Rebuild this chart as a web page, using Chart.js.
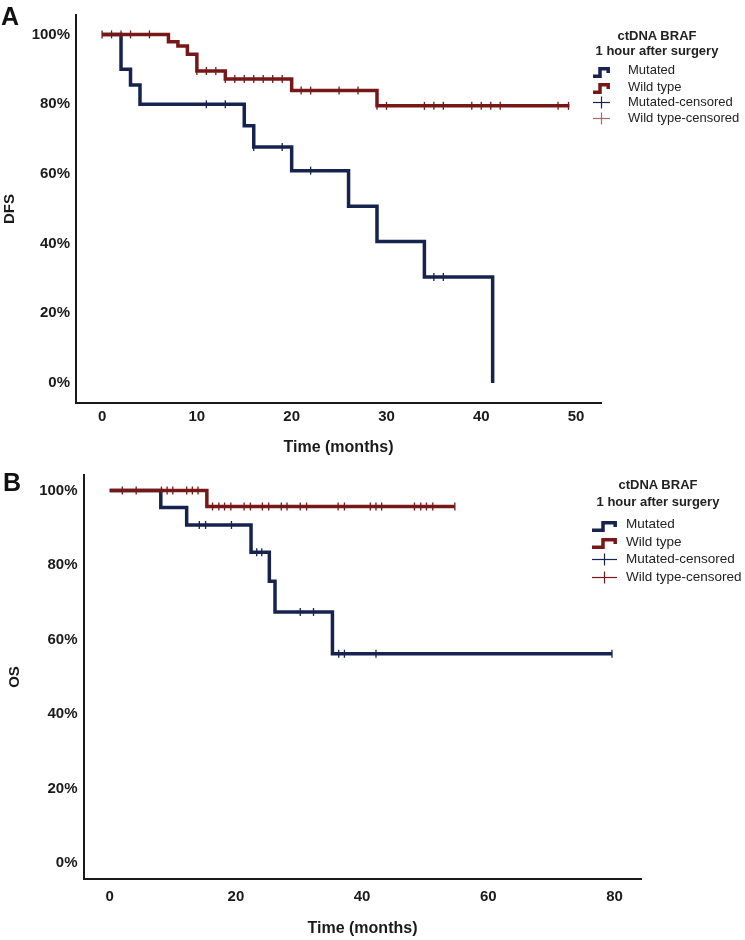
<!DOCTYPE html>
<html>
<head>
<meta charset="utf-8">
<script src="https://cdn.jsdelivr.net/npm/chart.js@4.4.1/dist/chart.umd.min.js"></script>
<style>
  body { margin: 0; background: #fff; font-family: 'Liberation Sans', Arial, sans-serif; }
  #page { position: relative; width: 745px; height: 940px; overflow: hidden; }
  canvas { position: absolute; left: 0; }
  .letter { position: absolute; font-weight: bold; font-size: 25px; line-height: 25px; color: #111; }
  .lg-title { position: absolute; font-weight: bold; font-size: 13px; line-height: 16px; text-align: center; color: #222; }
  .lg-text { position: absolute; line-height: 16px; color: #222; white-space: nowrap; }
  .lg-icon { position: absolute; }
</style>
</head>
<body>
<div id="page">
  <canvas id="dfsChart" width="745" height="470" style="top:0"></canvas>
  <canvas id="osChart" width="745" height="480" style="top:460px"></canvas>
  <div class="letter" style="left:1px; top:4px">A</div>
  <div class="letter" style="left:3px; top:470px">B</div>
  <div id="legendA"></div>
  <div id="legendB"></div>
</div>
<script>
const NAVY = '#16234f';
const RED = '#771818';

// shared
const survTicks = [0, 20, 40, 60, 80, 100];
const legendTitle = ['ctDNA BRAF', '1 hour after surgery'];
const legendLabels = ['Mutated', 'Wild type', 'Mutated-censored', 'Wild type-censored'];

// panel A - DFS
const dfsTicks = [0, 10, 20, 30, 40, 50];
const dfsMutTime = [0, 2, 3, 4, 15, 16, 20, 26, 29, 34, 41.2];
const dfsMutSurv = [100, 90, 85.5, 80, 73.8, 67.7, 60.9, 50.7, 40.6, 30.4, 0];
const dfsMutCens = [11, 13, 16, 19, 22, 35, 36];
const dfsWildTime = [0, 7, 8, 9, 10, 13, 20, 29, 49.3];
const dfsWildSurv = [100, 97.9, 96.7, 94.3, 89.5, 87.2, 83.9, 79.5, 79.5];
const dfsWildCens = [0, 1, 2, 3, 5, 10, 11, 12, 13, 14, 15, 16, 17, 18, 19, 21, 22, 25, 27, 29, 30, 34, 35, 36, 39, 40, 41, 42, 48.1, 49.2];

// panel B - OS
const osTicks = [0, 20, 40, 60, 80];
const osMutTime = [0, 8.1, 12.2, 22.4, 25.3, 26.2, 35.3, 79.6];
const osMutSurv = [100, 95.4, 90.7, 83.4, 75.6, 67.4, 56.2, 56.2];
const osMutCens = [14.2, 15.2, 19.3, 23.3, 24.1, 30.2, 32.3, 36.3, 37.2, 42.2, 79.6];
const osWildTime = [0, 15.4, 54.7];
const osWildSurv = [100, 95.7, 95.7];
const osWildCens = [2, 4.2, 8.2, 9.1, 10, 12.2, 13.1, 14, 16.3, 17.3, 18.2, 19.2, 21.3, 22.3, 24.2, 25.2, 27.2, 28.1, 30.2, 31.2, 36.2, 37.2, 41.3, 42.2, 43.1, 48.3, 49.3, 50.2, 51.2, 54.7];

Chart.defaults.font.family = "'Liberation Sans', Arial, sans-serif";

function survAt(times, surv, t) {
    let s = surv[0];
    for (let i = 0; i < times.length; i++) {
        if (times[i] <= t) s = surv[i];
    }
    return s;
}

function curveSet(times, surv, color) {
    // 'before' in chart.js: horizontal at old value, then drop at the new x
    return {
        data: times.map((t, i) => ({ x: t, y: surv[i] })),
        stepped: 'before',
        borderColor: color,
        borderWidth: 3.5,
        borderCapStyle: 'butt',
        borderJoinStyle: 'miter',
        pointRadius: 0,
        fill: false
    };
}

function censorSet(cens, times, surv, color) {
    return {
        data: cens.map(t => ({ x: t, y: survAt(times, surv, t) })),
        showLine: false,
        pointStyle: 'line',
        pointRotation: 90,
        pointRadius: 4,
        pointBorderWidth: 1.3,
        pointBorderColor: color,
        pointBackgroundColor: color
    };
}

function kmChart(id, p) {
    const ink = '#1a1a1a';
    return new Chart(document.getElementById(id), {
        type: 'line',
        data: {
            datasets: [
                censorSet(p.wildCens, p.wildTime, p.wildSurv, RED),
                censorSet(p.mutCens, p.mutTime, p.mutSurv, NAVY),
                curveSet(p.wildTime, p.wildSurv, RED),
                curveSet(p.mutTime, p.mutSurv, NAVY)
            ]
        },
        options: {
            responsive: false,
            devicePixelRatio: 1,
            animation: false,
            events: [],
            layout: { padding: { left: 0, top: p.padTop, right: p.padRight, bottom: 0 } },
            plugins: { legend: { display: false }, tooltip: { enabled: false } },
            scales: {
                x: {
                    type: 'linear',
                    min: p.xMin,
                    max: p.xMax,
                    afterBuildTicks: s => { s.ticks = p.xTicks.map(v => ({ value: v })); },
                    afterFit: s => { s.height = p.xHeight; },
                    grid: { display: false, drawTicks: false },
                    border: { display: true, color: ink, width: 2 },
                    ticks: { color: ink, font: { size: 15, weight: 'bold' }, padding: p.xPad, maxRotation: 0, autoSkip: false },
                    title: { display: true, text: 'Time (months)', color: ink, font: { size: 16, weight: 'bold' }, padding: { top: 0, bottom: p.xTitlePad } }
                },
                y: {
                    type: 'linear',
                    min: p.yMin,
                    max: p.yMax,
                    afterBuildTicks: s => { s.ticks = survTicks.map(v => ({ value: v })); },
                    afterFit: s => { s.width = p.yWidth; },
                    grid: { display: false, drawTicks: false },
                    border: { display: true, color: ink, width: 2 },
                    ticks: { color: ink, font: { size: 15, weight: 'bold' }, padding: 6, callback: v => v + '%' },
                    title: { display: true, text: p.yTitle, color: ink, font: { size: 15, weight: 'bold' }, padding: { top: p.yTitlePad, bottom: 0 } }
                }
            }
        }
    });
}

function stepIcon(w, color) {
    const h = 11;
    const mid = Math.round(w * 0.42);
    return '<svg width="' + w + '" height="' + h + '"><path d="M0,' + (h - 1.8) + ' L' + mid + ',' + (h - 1.8) +
        ' L' + mid + ',1.8 L' + (w - 1.8) + ',1.8 L' + (w - 1.8) + ',6" fill="none" stroke="' + color +
        '" stroke-width="3.5" stroke-linejoin="miter"/></svg>';
}

function censorIcon(w, color) {
    const h = 13;
    return '<svg width="' + w + '" height="' + h + '"><line x1="0" y1="6.5" x2="' + w + '" y2="6.5" stroke="' + color +
        '" stroke-width="1.2"/><line x1="' + (w / 2) + '" y1="0.5" x2="' + (w / 2) + '" y2="12.5" stroke="' + color +
        '" stroke-width="1.2"/></svg>';
}

function buildLegend(id, L) {
    const box = document.getElementById(id);
    let html = '';
    legendTitle.forEach((t, i) => {
        html += '<div class="lg-title" style="left:' + L.left + 'px;width:' + L.width + 'px;top:' + (L.titleY[i] - 8) + 'px">' + t + '</div>';
    });
    const icons = [
        stepIcon(L.iconW, NAVY),
        stepIcon(L.iconW, RED),
        censorIcon(L.iconW, NAVY),
        censorIcon(L.iconW, L.censorRed)
    ];
    legendLabels.forEach((t, i) => {
        const iconH = i < 2 ? 11 : 13;
        html += '<div class="lg-icon" style="left:' + L.iconX + 'px;top:' + (L.itemY[i] - iconH / 2 - 1) + 'px">' + icons[i] + '</div>';
        html += '<div class="lg-text" style="font-size:' + L.fontSize + 'px;left:' + L.textX + 'px;top:' + (L.itemY[i] - 8) + 'px">' + t + '</div>';
    });
    box.innerHTML = html;
}

kmChart('dfsChart', {
    mutTime: dfsMutTime, mutSurv: dfsMutSurv, mutCens: dfsMutCens,
    wildTime: dfsWildTime, wildSurv: dfsWildSurv, wildCens: dfsWildCens,
    xTicks: dfsTicks, yTitle: 'DFS',
    xMin: -2.75, xMax: 52.63, yMin: -5.74, yMax: 105.57,
    padTop: 15, padRight: 144, xHeight: 67, yWidth: 76,
    xPad: 5, xTitlePad: 13, yTitlePad: 1
});

kmChart('osChart', {
    mutTime: osMutTime, mutSurv: osMutSurv, mutCens: osMutCens,
    wildTime: osWildTime, wildSurv: osWildSurv, wildCens: osWildCens,
    xTicks: osTicks, yTitle: 'OS',
    xMin: -4.15, xMax: 84.28, yMin: -4.26, yMax: 104.13,
    padTop: 12, padRight: 103.5, xHeight: 61, yWidth: 83.5,
    xPad: 9, xTitlePad: 2, yTitlePad: 6
});

buildLegend('legendA', {
    left: 590, width: 134, titleY: [36, 51], itemY: [70, 86.5, 102, 118],
    iconX: 593, iconW: 17, textX: 628, fontSize: 13, censorRed: '#a86a6a'
});

buildLegend('legendB', {
    left: 591, width: 134, titleY: [485, 502], itemY: [524, 541.5, 559, 577],
    iconX: 592, iconW: 25, textX: 626, fontSize: 13.5, censorRed: RED
});
</script>
</body>
</html>
